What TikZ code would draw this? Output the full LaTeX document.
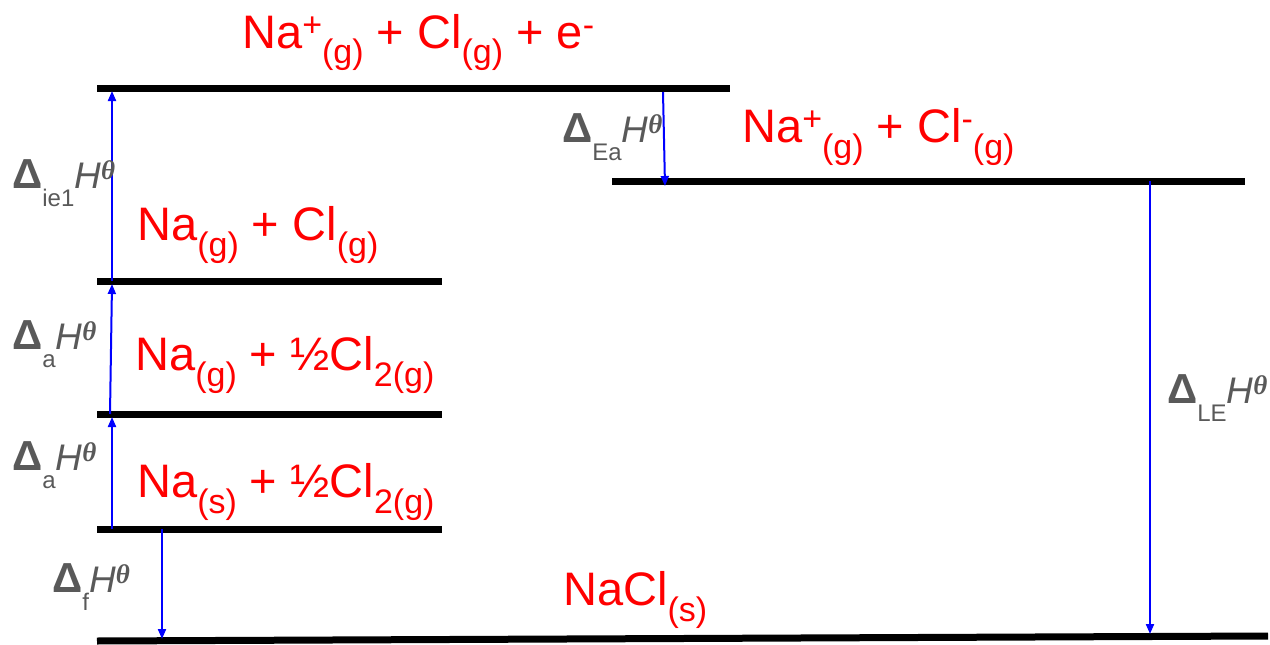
\documentclass[tikz,border=0pt]{standalone}
\usepackage{fontspec}
\setmainfont{Liberation Sans}
\newfontfamily\serifit{Liberation Serif}
\usetikzlibrary{arrows.meta}
\definecolor{lblgray}{HTML}{595959}
\definecolor{arrblue}{RGB}{0,0,255}
\definecolor{specred}{RGB}{255,0,0}
\newcommand\ssub[1]{\raisebox{-16pt}{\fontsize{34}{34}\selectfont #1}}
\newcommand\ssup[1]{\raisebox{12pt}{\fontsize{34}{34}\selectfont #1}}
\newcommand\dH[1]{{\fontsize{42}{42}\selectfont\bfseries Δ}\raisebox{-18pt}{\fontsize{24}{24}\selectfont #1}{\fontsize{37}{37}\selectfont\itshape H}\raisebox{9pt}{\fontsize{27}{27}\selectfont\serifit\bfseries\itshape θ}}
\begin{document}
\begin{tikzpicture}[x=1pt,y=-1pt,
  level/.style={line width=7pt},
  enarrow/.style={draw=arrblue,line width=2pt,-{Triangle[length=10pt,width=8pt]}},
  species/.style={anchor=base west,inner sep=0pt,text=specred,font=\fontsize{47}{47}\selectfont},
  dlabel/.style={anchor=base west,inner sep=0pt,text=lblgray}]
\useasboundingbox (0,0) rectangle (1270,645);
% levels
\coordinate (l1a) at (97,88);   \coordinate (l1b) at (730,88);
\coordinate (l2a) at (612,181); \coordinate (l2b) at (1245,181);
\coordinate (l3a) at (97,281);  \coordinate (l3b) at (442,281);
\coordinate (l4a) at (97,414);  \coordinate (l4b) at (442,414);
\coordinate (l5a) at (97,529);  \coordinate (l5b) at (442,529);
\coordinate (l6a) at (97,641);  \coordinate (l6b) at (1268,636);
\foreach \i in {1,...,6} \draw[level] (l\i a) -- (l\i b);
% arrow ends
\coordinate (ie1s) at (112,281); \coordinate (ie1e) at (112,91);
\coordinate (a2s) at (110,414);  \coordinate (a2e) at (112,284);
\coordinate (a1s) at (112,529);  \coordinate (a1e) at (112,417);
\coordinate (fs) at (162,529);   \coordinate (fe) at (162,639);
\coordinate (eas) at (663,92);   \coordinate (eae) at (665,186);
\coordinate (les) at (1150,181); \coordinate (lee) at (1150,634);
\draw[enarrow] (ie1s) -- (ie1e);
\draw[enarrow] (a2s) -- (a2e);
\draw[enarrow] (a1s) -- (a1e);
\draw[enarrow] (fs) -- (fe);
\draw[enarrow] (eas) -- (eae);
\draw[enarrow] (les) -- (lee);
% species
\node[species] (s1) at (242,48) {Na\ssup{+}\ssub{(g)} + Cl\ssub{(g)} + e\ssup{-}};
\node[species] (s2) at (742,142) {Na\ssup{+}\ssub{(g)} + Cl\ssup{-}\ssub{(g)}};
\node[species] (s3) at (137,240) {Na\ssub{(g)} + Cl\ssub{(g)}};
\node[species] (s4) at (135,370) {Na\ssub{(g)} + ½Cl\ssub{2(g)}};
\node[species] (s5) at (137,497) {Na\ssub{(s)} + ½Cl\ssub{2(g)}};
\node[species] (s6) at (563,605) {NaCl\ssub{(s)}};
% enthalpy labels
\node[dlabel] (d1) at (12,188) {\dH{ie1}};
\node[dlabel] (d2) at (12,349) {\dH{a}};
\node[dlabel] (d3) at (12,470) {\dH{a}};
\node[dlabel] (d4) at (52,592) {\dH{f}};
\node[dlabel] (d5) at (562,142) {\dH{Ea}};
\node[dlabel] (d6) at (1167,403) {\dH{LE}};
\end{tikzpicture}
\end{document}
